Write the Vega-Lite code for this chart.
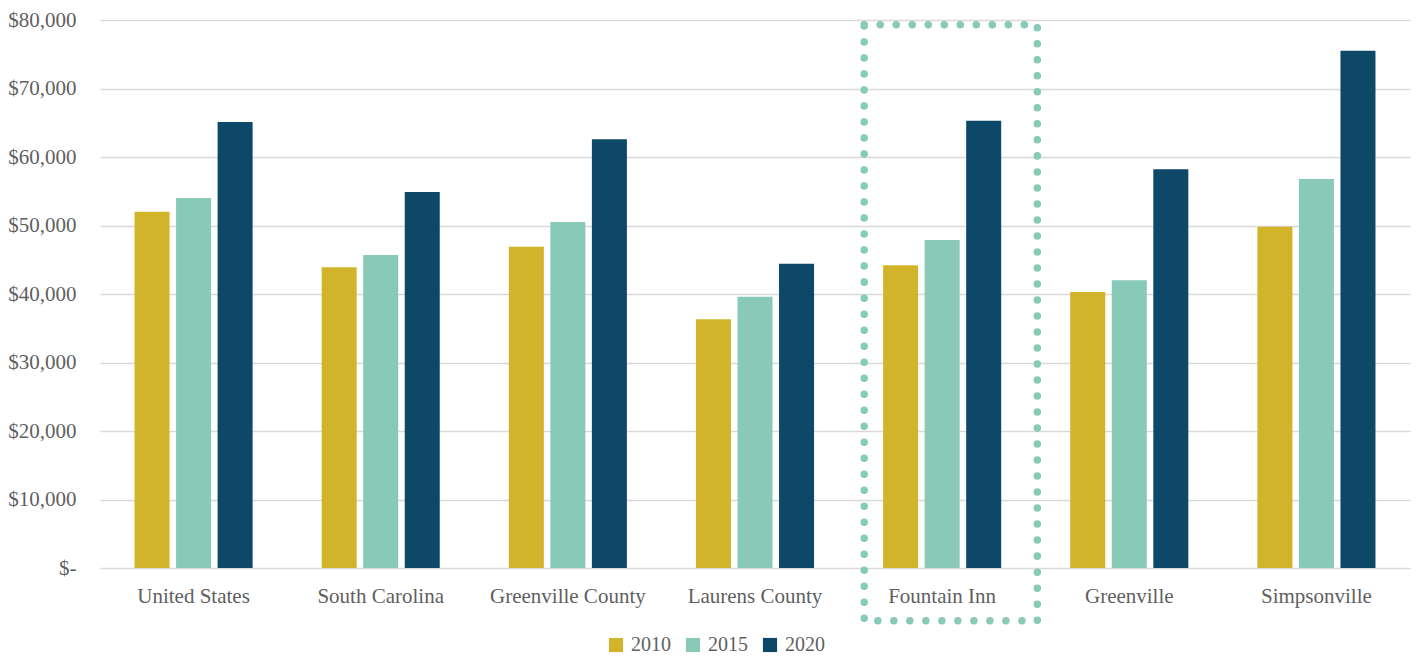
{
  "$schema": "https://vega.github.io/schema/vega-lite/v6.json",
  "width": 1310,
  "height": 548,
  "autosize": {"type": "none"},
  "padding": {"left": 100, "top": 20, "right": 8, "bottom": 90},
  "background": "white",
  "config": {
    "font": "Liberation Serif",
    "view": {"stroke": null},
    "axis": {
      "labelFont": "Liberation Serif",
      "labelColor": "#5f5f5f",
      "labelFontSize": 21,
      "title": null,
      "ticks": false,
      "domain": false
    },
    "legend": {"labelFont": "Liberation Serif"}
  },
  "layer": [
    {
      "data": {
        "values": [
          {"place": "United States", "year": "2010", "income": 52000},
          {"place": "United States", "year": "2015", "income": 54000},
          {"place": "United States", "year": "2020", "income": 65100},
          {"place": "South Carolina", "year": "2010", "income": 43900},
          {"place": "South Carolina", "year": "2015", "income": 45700},
          {"place": "South Carolina", "year": "2020", "income": 54900},
          {"place": "Greenville County", "year": "2010", "income": 46900},
          {"place": "Greenville County", "year": "2015", "income": 50500},
          {"place": "Greenville County", "year": "2020", "income": 62600},
          {"place": "Laurens County", "year": "2010", "income": 36300},
          {"place": "Laurens County", "year": "2015", "income": 39600},
          {"place": "Laurens County", "year": "2020", "income": 44400},
          {"place": "Fountain Inn", "year": "2010", "income": 44200},
          {"place": "Fountain Inn", "year": "2015", "income": 47900},
          {"place": "Fountain Inn", "year": "2020", "income": 65300},
          {"place": "Greenville", "year": "2010", "income": 40300},
          {"place": "Greenville", "year": "2015", "income": 42000},
          {"place": "Greenville", "year": "2020", "income": 58200},
          {"place": "Simpsonville", "year": "2010", "income": 49800},
          {"place": "Simpsonville", "year": "2015", "income": 56800},
          {"place": "Simpsonville", "year": "2020", "income": 75500}
        ]
      },
      "mark": {"type": "bar"},
      "encoding": {
        "x": {
          "field": "place",
          "type": "nominal",
          "scale": {
            "domain": ["United States", "South Carolina", "Greenville County", "Laurens County", "Fountain Inn", "Greenville", "Simpsonville"],
            "paddingInner": 0.369,
            "paddingOuter": 0.1845
          },
          "axis": {"labelAngle": 0, "labelPadding": 17, "labelLimit": 0}
        },
        "xOffset": {
          "field": "year",
          "type": "nominal",
          "scale": {"paddingInner": 0.157, "paddingOuter": 0}
        },
        "y": {
          "field": "income",
          "type": "quantitative",
          "scale": {"domain": [0, 80000], "nice": false},
          "axis": {
            "values": [0, 10000, 20000, 30000, 40000, 50000, 60000, 70000, 80000],
            "labelExpr": "datum.value == 0 ? '$-' : '$' + format(datum.value, ',')",
            "labelPadding": 24,
            "grid": true,
            "gridColor": "#d9d9d9",
            "gridWidth": 1.5
          }
        },
        "color": {
          "field": "year",
          "type": "nominal",
          "scale": {"domain": ["2010", "2015", "2020"], "range": ["#D2B42A", "#88C9B7", "#0E4868"]},
          "legend": {
            "title": null,
            "orient": "none",
            "legendX": 506,
            "legendY": 615,
            "direction": "horizontal",
            "symbolType": "square",
            "symbolSize": 200,
            "symbolStrokeWidth": 0,
            "labelFontSize": 20,
            "labelColor": "#5f5f5f",
            "labelOffset": 5,
            "columnPadding": 12
          }
        }
      }
    },
    {
      "data": {"values": [{"place": "Fountain Inn", "top": 79300, "bottom": -7700}]},
      "mark": {
        "type": "rect",
        "fillOpacity": 0,
        "stroke": "#88C9B7",
        "strokeWidth": 7.5,
        "strokeDash": [0.01, 16],
        "strokeCap": "round",
        "clip": false
      },
      "encoding": {
        "x": {"field": "place", "type": "nominal", "bandPosition": -0.16},
        "x2": {"field": "place", "bandPosition": 1.306},
        "y": {"field": "top", "type": "quantitative"},
        "y2": {"field": "bottom"}
      }
    }
  ]
}
